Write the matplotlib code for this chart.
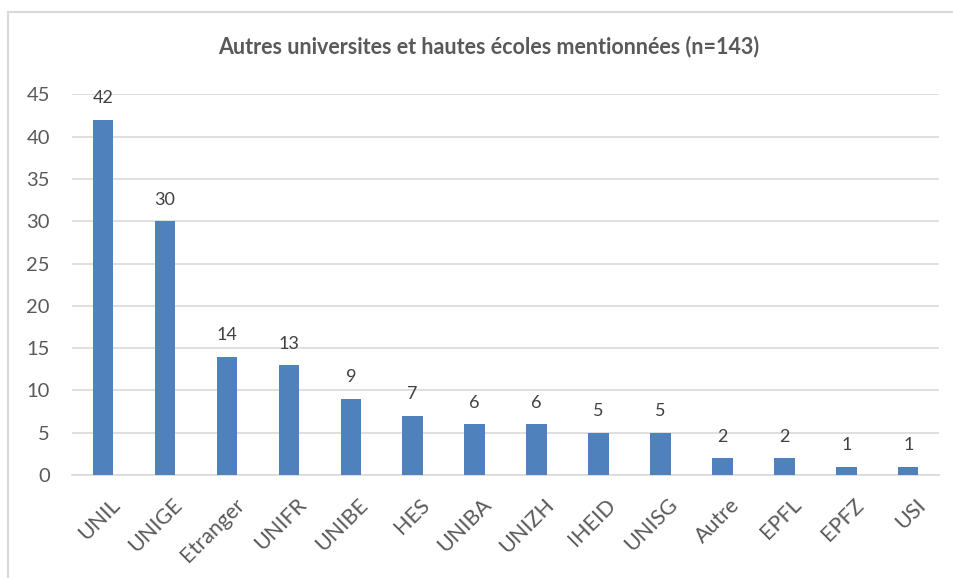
import matplotlib.pyplot as plt
from matplotlib.patches import Rectangle
from matplotlib.transforms import ScaledTranslation

# data
schools = ['UNIL', 'UNIGE', 'Etranger', 'UNIFR', 'UNIBE', 'HES', 'UNIBA',
           'UNIZH', 'IHEID', 'UNISG', 'Autre', 'EPFL', 'EPFZ', 'USI']
counts = [42, 30, 14, 13, 9, 7, 6, 6, 5, 5, 2, 2, 1, 1]
yticks = [0, 5, 10, 15, 20, 25, 30, 35, 40, 45]

plt.rcParams['font.family'] = ['Lato', 'DejaVu Sans']
text_col = '#595959'
grid_col = '#D9D9D9'
bar_col = '#4F81BD'

fig = plt.figure(figsize=(9.54, 5.78), dpi=100)
ax = fig.add_axes([0.0755, 0.178, 0.909, 0.659])

# chart frame like in Excel
fig.patches.append(Rectangle((8 / 954, -0.05), 1.2, 1 - 12 / 578 + 0.05,
                             transform=fig.transFigure, fill=False,
                             edgecolor=grid_col, linewidth=1.5))

x = range(len(schools))
bars = ax.bar(x, counts, width=0.33, color=bar_col, zorder=3)
for b, v in zip(bars, counts):
    ax.text(b.get_x() + b.get_width() / 2, v + 1.6, str(v), ha='center',
            va='bottom', fontsize=13, color='#404040')

ax.set_xlim(-0.5, len(schools) - 0.5)
ax.set_ylim(0, 45)
ax.set_yticks(yticks)
ax.yaxis.grid(True, color=grid_col, linewidth=1.2, zorder=0)
for s in ['top', 'right', 'left']:
    ax.spines[s].set_visible(False)
ax.spines['bottom'].set_color(grid_col)
ax.spines['bottom'].set_linewidth(1.2)
ax.tick_params(axis='y', length=0, labelsize=14.5, labelcolor=text_col, pad=16)
ax.tick_params(axis='x', length=0, labelsize=15.5, labelcolor=text_col, pad=14)
ax.set_xticks(list(x))
ax.set_xticklabels(schools, rotation=45, ha='right', rotation_mode='anchor')
shift = ScaledTranslation(7 / 100, 0, fig.dpi_scale_trans)
for lab in ax.get_xticklabels():
    lab.set_transform(lab.get_transform() + shift)

fig.text(0.512, 0.919, 'Autres universites et hautes écoles mentionnées (n=143)',
         ha='center', va='center', fontsize=15.5, fontweight='bold', color=text_col)

fig.savefig('out.png', dpi=100)
